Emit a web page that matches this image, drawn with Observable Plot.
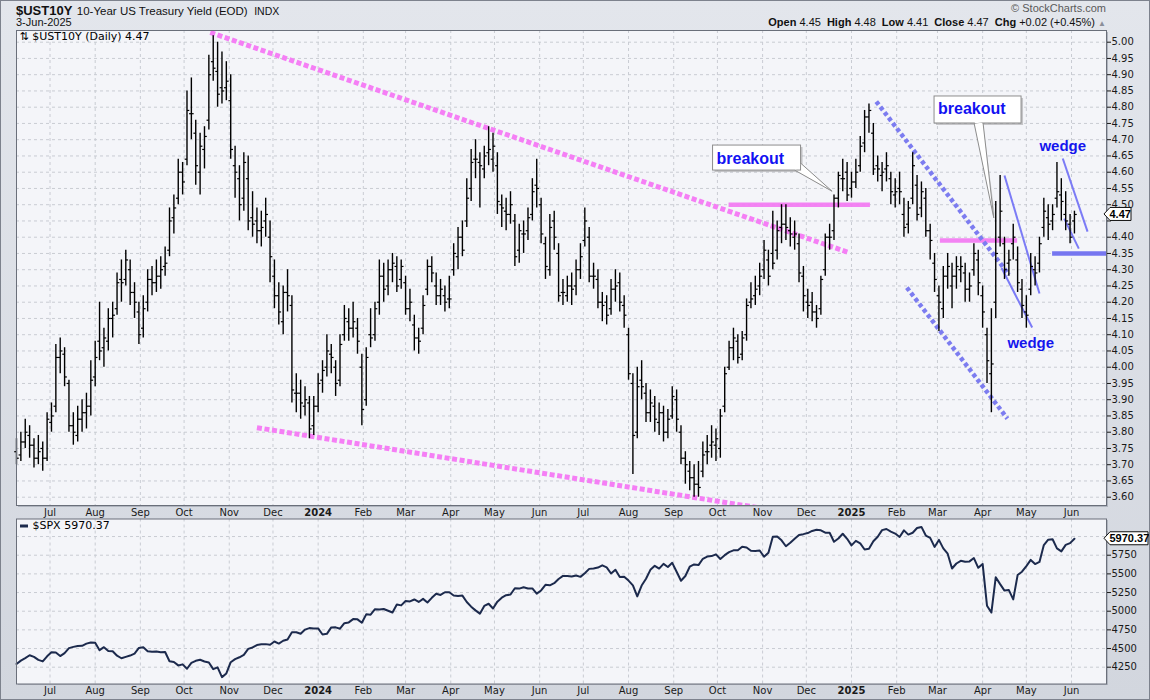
<!DOCTYPE html>
<html>
<head>
<meta charset="utf-8">
<script src="https://cdn.jsdelivr.net/npm/d3@7"></script>
<script src="https://cdn.jsdelivr.net/npm/@observablehq/plot@0.6"></script>
<style>
  html, body { margin:0; padding:0; }
  body { width:1150px; height:700px; overflow:hidden; font-family:"Liberation Sans", Arial, sans-serif; }
  #page { position:relative; width:1150px; height:700px; background:linear-gradient(180deg,#e3e6ec 0%,#d2d6de 100%); }
  .abs { position:absolute; white-space:nowrap; }
  #border { position:absolute; left:0; top:0; width:1150px; height:700px; box-sizing:border-box; border:1px solid #7d828d; pointer-events:none; }
  .shadow { position:absolute; background:#b0b5bf; }
  svg { overflow:visible; }
  #ohlc b { font-weight:bold; }
  #ohlc span.g { margin-left:6px; }
</style>
</head>
<body>
<div id="page">
  <div class="shadow" style="left:18px;top:32px;width:1090px;height:475px;"></div>
  <div class="shadow" style="left:18px;top:520px;width:1090px;height:165px;"></div>
  <div class="abs" id="title" style="left:16px;top:1px;line-height:18px;color:#111;"></div>
  <div class="abs" id="date" style="left:16px;top:16px;font-size:11px;line-height:13px;color:#111;"></div>
  <div class="abs" style="right:44px;top:2px;font-size:11px;line-height:12px;color:#5a5a5a;">&#169; StockCharts.com</div>
  <div class="abs" id="ohlc" style="right:44px;top:16px;font-size:11px;line-height:13px;color:#111;"></div>
  <div id="top" class="abs" style="left:0;top:0;"></div>
  <div id="bot" class="abs" style="left:0;top:505px;"></div>
  <div id="border"></div>
</div>
<script>
// ---------- data ----------
const symbol = "$UST10Y";
const symbolName = "10-Year US Treasury Yield (EOD)";
const exchange = "INDX";
const asOf = "3-Jun-2025";
const chg = "+0.02";
const chgPct = "+0.45%";

// bars sampled every 3 calendar days starting 2023-06-08
const barStart = "2023-06-08";
const barStepDays = 3;
const op = [3.74,3.73,3.77,3.79,3.76,3.72,3.75,3.72,3.83,3.88,
4.03,4.04,3.95,3.82,3.79,3.84,3.86,3.88,3.97,4.08,
4.06,4.08,4.15,4.18,4.27,4.27,4.30,4.23,4.17,4.12,
4.20,4.27,4.26,4.28,4.31,4.36,4.46,4.52,4.60,4.64,
4.78,4.72,4.60,4.67,4.76,4.94,4.91,4.86,4.86,4.82,
4.62,4.58,4.52,4.58,4.46,4.45,4.42,4.45,4.40,4.28,
4.22,4.14,4.23,4.19,3.92,3.92,3.88,3.89,3.82,3.88,
3.96,4.00,4.04,4.00,3.96,4.10,4.14,4.12,4.12,4.00,
3.90,4.10,4.10,4.20,4.28,4.25,4.30,4.31,4.27,4.26,
4.18,4.13,4.09,4.12,4.24,4.31,4.25,4.22,4.22,4.21,
4.30,4.34,4.40,4.45,4.55,4.64,4.63,4.61,4.66,4.64,
4.62,4.50,4.48,4.47,4.45,4.36,4.41,4.42,4.47,4.56,
4.50,4.38,4.30,4.45,4.35,4.23,4.22,4.25,4.25,4.30,
4.39,4.40,4.28,4.27,4.20,4.20,4.18,4.24,4.26,4.19,
4.10,3.95,3.80,3.96,3.92,3.86,3.88,3.83,3.86,3.80,
3.85,3.90,3.80,3.72,3.68,3.66,3.64,3.68,3.74,3.76,
3.76,3.75,3.88,4.00,4.06,4.08,4.04,4.10,4.20,4.22,
4.25,4.30,4.33,4.35,4.36,4.43,4.44,4.42,4.40,4.38,
4.28,4.20,4.20,4.17,4.18,4.30,4.40,4.42,4.52,4.58,
4.60,4.55,4.57,4.62,4.69,4.77,4.72,4.62,4.59,4.61,
4.58,4.53,4.55,4.47,4.44,4.52,4.56,4.49,4.52,4.42,
4.32,4.22,4.18,4.28,4.25,4.28,4.30,4.29,4.24,4.30,
4.33,4.22,4.10,3.98,4.20,4.40,4.38,4.32,4.38,4.33,
4.24,4.17,4.24,4.30,4.32,4.43,4.46,4.45,4.52,4.53,
4.47,4.44,4.45];
const hi = [3.78,3.80,3.84,3.82,3.78,3.79,3.77,3.86,3.89,4.07,
4.09,4.06,3.96,3.86,3.88,3.90,3.92,4.02,4.08,4.20,
4.12,4.18,4.20,4.29,4.33,4.36,4.33,4.26,4.20,4.22,
4.30,4.31,4.33,4.34,4.37,4.49,4.53,4.64,4.63,4.85,
4.89,4.76,4.72,4.74,4.96,5.02,5.00,4.97,4.94,4.90,
4.68,4.62,4.66,4.65,4.54,4.49,4.48,4.52,4.45,4.33,
4.26,4.25,4.30,4.22,3.98,3.96,3.94,3.91,3.91,3.98,
4.02,4.10,4.07,4.02,4.10,4.19,4.18,4.20,4.15,4.04,
4.06,4.18,4.20,4.33,4.32,4.33,4.35,4.34,4.33,4.28,
4.24,4.16,4.12,4.22,4.33,4.34,4.29,4.27,4.25,4.28,
4.38,4.43,4.45,4.58,4.67,4.70,4.66,4.68,4.74,4.72,
4.66,4.53,4.52,4.54,4.47,4.44,4.45,4.49,4.58,4.64,
4.52,4.40,4.47,4.48,4.38,4.27,4.28,4.29,4.33,4.38,
4.49,4.43,4.32,4.30,4.23,4.22,4.27,4.30,4.29,4.22,
4.12,3.98,4.00,4.02,3.95,3.93,3.91,3.89,3.88,3.87,
3.94,3.93,3.82,3.74,3.71,3.70,3.71,3.77,3.79,3.82,
3.81,3.87,4.00,4.08,4.12,4.10,4.11,4.21,4.26,4.28,
4.32,4.39,4.36,4.48,4.45,4.50,4.50,4.46,4.45,4.41,
4.31,4.24,4.23,4.19,4.28,4.41,4.44,4.53,4.60,4.64,
4.63,4.60,4.64,4.71,4.79,4.81,4.75,4.65,4.63,4.66,
4.60,4.58,4.60,4.52,4.51,4.66,4.59,4.57,4.55,4.44,
4.35,4.25,4.31,4.35,4.32,4.34,4.34,4.32,4.29,4.38,
4.36,4.25,4.12,4.18,4.51,4.59,4.40,4.36,4.44,4.37,
4.27,4.22,4.35,4.34,4.40,4.52,4.50,4.50,4.63,4.58,
4.54,4.47,4.48];
const lo = [3.70,3.71,3.75,3.72,3.69,3.70,3.68,3.71,3.80,3.86,
3.98,3.94,3.80,3.76,3.77,3.80,3.81,3.85,3.94,4.02,
4.00,4.05,4.09,4.16,4.20,4.25,4.19,4.15,4.07,4.09,
4.17,4.22,4.23,4.24,4.28,4.34,4.41,4.50,4.53,4.62,
4.70,4.56,4.53,4.61,4.73,4.88,4.80,4.81,4.82,4.64,
4.52,4.45,4.48,4.42,4.40,4.38,4.37,4.40,4.26,4.18,
4.13,4.10,4.17,3.89,3.86,3.84,3.85,3.78,3.79,3.86,
3.92,3.97,3.98,3.91,3.94,4.08,4.08,4.09,4.04,3.82,
3.88,4.06,4.08,4.16,4.20,4.22,4.26,4.23,4.24,4.16,
4.14,4.05,4.04,4.10,4.22,4.26,4.19,4.19,4.17,4.18,
4.28,4.30,4.34,4.43,4.51,4.58,4.49,4.58,4.62,4.60,
4.47,4.43,4.42,4.44,4.31,4.32,4.35,4.39,4.45,4.49,
4.38,4.27,4.28,4.36,4.20,4.19,4.20,4.19,4.22,4.27,
4.37,4.26,4.24,4.18,4.14,4.13,4.16,4.20,4.17,4.12,
3.96,3.67,3.78,3.90,3.83,3.83,3.80,3.79,3.77,3.78,
3.84,3.80,3.70,3.64,3.62,3.60,3.60,3.66,3.70,3.72,
3.71,3.72,3.86,3.99,4.02,4.01,4.02,4.08,4.18,4.19,
4.22,4.27,4.25,4.30,4.33,4.38,4.39,4.37,4.36,4.26,
4.17,4.15,4.14,4.12,4.16,4.28,4.36,4.39,4.49,4.54,
4.51,4.52,4.55,4.60,4.66,4.72,4.59,4.57,4.54,4.57,
4.50,4.49,4.50,4.40,4.41,4.50,4.45,4.46,4.40,4.33,
4.23,4.11,4.15,4.24,4.18,4.24,4.26,4.20,4.20,4.28,
4.22,4.12,3.95,3.86,4.15,4.37,4.27,4.28,4.33,4.23,
4.15,4.12,4.22,4.25,4.29,4.40,4.39,4.42,4.49,4.45,
4.42,4.38,4.41];
const cl = [3.72,3.77,3.80,3.76,3.72,3.74,3.72,3.84,3.85,4.03,
4.05,3.97,3.82,3.80,3.84,3.86,3.88,3.96,4.03,4.05,
4.09,4.15,4.16,4.26,4.26,4.33,4.23,4.20,4.10,4.18,
4.27,4.26,4.28,4.30,4.32,4.45,4.49,4.60,4.57,4.79,
4.78,4.62,4.68,4.71,4.90,4.92,4.84,4.85,4.88,4.67,
4.60,4.50,4.63,4.45,4.44,4.42,4.43,4.47,4.34,4.22,
4.17,4.23,4.22,3.93,3.92,3.89,3.90,3.81,3.88,3.95,
3.99,4.05,4.03,3.95,4.07,4.15,4.12,4.14,4.08,3.87,
4.03,4.09,4.18,4.28,4.24,4.30,4.32,4.25,4.31,4.18,
4.20,4.09,4.08,4.19,4.31,4.29,4.22,4.24,4.20,4.21,
4.35,4.40,4.36,4.52,4.63,4.64,4.62,4.65,4.67,4.68,
4.51,4.49,4.47,4.50,4.34,4.42,4.41,4.46,4.54,4.55,
4.41,4.31,4.43,4.40,4.22,4.23,4.25,4.24,4.30,4.34,
4.45,4.28,4.28,4.20,4.19,4.16,4.24,4.25,4.20,4.16,
3.98,3.79,3.94,3.94,3.86,3.89,3.84,3.86,3.80,3.84,
3.91,3.84,3.72,3.70,3.66,3.64,3.63,3.73,3.74,3.77,
3.78,3.85,3.98,4.06,4.09,4.03,4.09,4.19,4.21,4.24,
4.28,4.36,4.28,4.32,4.42,4.44,4.43,4.41,4.41,4.29,
4.22,4.19,4.17,4.15,4.27,4.40,4.40,4.52,4.59,4.58,
4.53,4.57,4.60,4.68,4.77,4.79,4.61,4.61,4.60,4.62,
4.54,4.54,4.54,4.43,4.49,4.62,4.47,4.54,4.42,4.39,
4.27,4.20,4.28,4.31,4.28,4.31,4.31,4.24,4.25,4.35,
4.26,4.17,4.02,4.01,4.35,4.48,4.30,4.33,4.40,4.26,
4.19,4.16,4.31,4.29,4.38,4.48,4.44,4.47,4.54,4.51,
4.45,4.40,4.47];
const spx = [4293,4338,4372,4410,4389,4348,4328,4396,4450,4446,
4399,4439,4505,4522,4535,4536,4566,4582,4577,4478,
4518,4468,4464,4404,4370,4388,4406,4433,4508,4516,
4465,4457,4461,4450,4453,4330,4320,4274,4288,4229,
4308,4336,4349,4327,4314,4224,4248,4117,4167,4317,
4358,4383,4415,4496,4514,4547,4556,4559,4551,4594,
4567,4604,4622,4719,4719,4698,4754,4774,4770,4770,
4688,4697,4783,4784,4766,4840,4850,4894,4891,4846,
4958,4954,5027,5022,5030,5006,4982,5089,5078,5137,
5131,5157,5124,5165,5117,5179,5234,5218,5254,5254,
5211,5204,5209,5123,5061,5011,4967,5071,5100,5036,
5128,5181,5214,5223,5308,5303,5321,5305,5305,5235,
5278,5354,5347,5375,5432,5473,5473,5465,5478,5460,
5509,5567,5572,5584,5615,5588,5505,5555,5459,5463,
5410,5346,5199,5344,5434,5554,5608,5571,5634,5592,
5648,5528,5408,5471,5596,5626,5618,5702,5732,5738,
5762,5700,5751,5792,5815,5816,5864,5853,5809,5808,
5813,5729,5782,5996,6001,5949,5870,5917,5969,6021,
6032,6047,6075,6090,6084,6051,6050,5930,5974,6037,
5970,5882,5942,5909,5827,5836,5937,5997,6086,6101,
6067,6040,5994,6083,6026,6051,6114,6129,6013,5983,
5861,5955,5842,5770,5572,5639,5675,5662,5667,5712,
5581,5633,5074,4982,5456,5363,5276,5283,5158,5484,
5529,5604,5687,5631,5660,5886,5958,5964,5842,5802,
5889,5912,5970.37];

// axis ticks
const monthTicks = ["2023-07-01","2023-08-01","2023-09-01","2023-10-01","2023-11-01","2023-12-01",
"2024-01-01","2024-02-01","2024-03-01","2024-04-01","2024-05-01","2024-06-01","2024-07-01","2024-08-01",
"2024-09-01","2024-10-01","2024-11-01","2024-12-01","2025-01-01","2025-02-01","2025-03-01","2025-04-01",
"2025-05-01","2025-06-01"];
const yieldTicks = [3.60,3.65,3.70,3.75,3.80,3.85,3.90,3.95,4.00,4.05,4.10,4.15,4.20,4.25,4.30,4.35,4.40,
4.45,4.50,4.55,4.60,4.65,4.70,4.75,4.80,4.85,4.90,4.95,5.00];
const spxTicks = [4250,4500,4750,5000,5250,5500,5750,6000];
const xDomain = ["2023-06-08","2025-06-25"];
const yieldDomain = [3.5745, 5.036];
const spxDomain = [4025, 6235];

// annotations (chart coordinates: date, yield)
const pinkDotted = [
  {x1:"2023-10-19", y1:5.03, x2:"2024-12-30", y2:4.353},
  {x1:"2023-11-20", y1:3.814, x2:"2024-11-06", y2:3.562}
];
const pinkLevels = [
  {x1:"2024-10-09", x2:"2025-01-14", y:4.50},
  {x1:"2025-03-03", x2:"2025-04-25", y:4.39}
];
const blueDotted = [
  {x1:"2025-01-18", y1:4.8175, x2:"2025-04-19", y2:4.285},
  {x1:"2025-02-08", y1:4.245, x2:"2025-04-18", y2:3.842}
];
const wedgeLines = [
  {x1:"2025-04-16", y1:4.590, x2:"2025-05-10", y2:4.227},
  {x1:"2025-04-14", y1:4.305, x2:"2025-05-05", y2:4.122},
  {x1:"2025-05-26", y1:4.642, x2:"2025-06-12", y2:4.417},
  {x1:"2025-05-27", y1:4.457, x2:"2025-06-06", y2:4.365}
];
const blueLevels = [{x1:"2025-05-19", x2:"2025-06-25", y:4.35}];
const wedgeLabels = [
  {date:"2025-05-26", value:4.679, label:"wedge"},
  {date:"2025-05-04", value:4.075, label:"wedge"}
];
const callouts = [
  {label:"breakout", boxDate:"2024-09-28", boxValue:4.682, tipDate:"2024-12-19", tipValue:4.54},
  {label:"breakout", boxDate:"2025-02-27", boxValue:4.833, tipDate:"2025-04-09", tipValue:4.458}
];

// ---------- build ----------
const parse = d3.utcParse("%Y-%m-%d");
const t0 = parse(barStart);
const dates = op.map((_, i) => d3.utcDay.offset(t0, i * barStepDays));
const bars = op.map((o, i) => ({date: dates[i], op: o, hi: hi[i], lo: lo[i], cl: cl[i]}));
const spxData = spx.map((v, i) => ({date: dates[i], v}));
const months = monthTicks.map(parse);
const monthsNoJan = months.filter(d => d.getUTCMonth() !== 0);
const jans = months.filter(d => d.getUTCMonth() === 0);
const xd = xDomain.map(parse);
const fixLine = a => a.map(d => ({...d, x1: parse(d.x1), x2: parse(d.x2)}));

const last = bars[bars.length - 1];
const spxLast = spx[spx.length - 1];
const f2 = d3.format(".2f");

document.getElementById("title").innerHTML =
  `<b style="font-size:13px">${symbol}</b> <span style="font-size:11.5px">${symbolName}</span> <span style="font-size:10.5px;margin-left:2px">${exchange}</span>`;
document.getElementById("date").textContent = asOf;
document.getElementById("ohlc").innerHTML =
  `<b>Open</b> ${f2(last.op)}<span class="g"><b>High</b> ${f2(last.hi)}</span><span class="g"><b>Low</b> ${f2(last.lo)}</span><span class="g"><b>Close</b> ${f2(last.cl)}</span><span class="g"><b>Chg</b> ${chg} (${chgPct})</span> <span style="font-size:8px;color:#8a8f99">&#9650;</span>`;

const AX = "'DejaVu Sans', sans-serif";
const leftTick = {draw(ctx) { ctx.moveTo(-2.3, 0); ctx.lineTo(0, 0); }};
const rightTick = {draw(ctx) { ctx.moveTo(0, 0); ctx.lineTo(2.3, 0); }};
const gridStyle = {stroke: "#c9ccd3", strokeDasharray: "3,3", strokeWidth: 1};

// tick labels hidden underneath the last-value tags (as in the original)
const yieldTickFmt = v => Math.abs(v - last.cl) < 0.025 ? "" : f2(v);
const spxTickFmt = v => Math.abs(v - spxLast) < 90 ? "" : d3.format("d")(v);

const topChart = Plot.plot({
  width: 1150, height: 518,
  marginTop: 30, marginBottom: 13, marginLeft: 16, marginRight: 44,
  style: {background: "transparent", fontFamily: AX, fontSize: "10px", color: "#1a1a1a", overflow: "visible"},
  x: {type: "utc", domain: xd, axis: null, label: null},
  y: {domain: yieldDomain, axis: null, label: null},
  marks: [
    Plot.frame({fill: "#f4f5f9", stroke: "none"}),
    Plot.ruleY(yieldTicks, gridStyle),
    Plot.ruleX(months, gridStyle),
    Plot.ruleY(fixLine(pinkLevels), {y: "y", x1: "x1", x2: "x2", stroke: "#f27cf2", strokeWidth: 4.5, strokeOpacity: 0.95}),
    Plot.link(fixLine(pinkDotted), {x1: "x1", y1: "y1", x2: "x2", y2: "y2", stroke: "#f57ff5", strokeWidth: 5, strokeDasharray: "5,2.6", clip: true}),
    Plot.link(fixLine(blueDotted), {x1: "x1", y1: "y1", x2: "x2", y2: "y2", stroke: "#7c7cf0", strokeWidth: 4.5, strokeDasharray: "4,2.8", clip: true}),
    Plot.link(fixLine(wedgeLines), {x1: "x1", y1: "y1", x2: "x2", y2: "y2", stroke: "#7b7bf6", strokeWidth: 2}),
    Plot.ruleY(fixLine(blueLevels), {y: "y", x1: "x1", x2: "x2", stroke: "#7676f0", strokeWidth: 4.5}),
    Plot.ruleX(bars, {x: "date", y1: "lo", y2: "hi", stroke: "#000", strokeWidth: 1.4}),
    Plot.dot(bars, {x: "date", y: "op", symbol: leftTick, r: 2, stroke: "#000", fill: "none", strokeWidth: 1.2}),
    Plot.dot(bars, {x: "date", y: "cl", symbol: rightTick, r: 2, stroke: "#000", fill: "none", strokeWidth: 1.2}),
    Plot.text(wedgeLabels, {x: d => parse(d.date), y: "value", text: "label", fill: "#1515ee", fontWeight: "bold", fontSize: 15, fontFamily: "'Liberation Sans', Arial, sans-serif"}),
    Plot.axisY({anchor: "right", ticks: yieldTicks, tickFormat: yieldTickFmt, tickSize: 4, tickPadding: 1, fontSize: 10, label: null}),
    Plot.axisX({ticks: monthsNoJan, tickFormat: d3.utcFormat("%b"), tickSize: 0, tickPadding: 3, fontSize: 10, label: null}),
    Plot.axisX({ticks: jans, tickFormat: d3.utcFormat("%Y"), tickSize: 0, tickPadding: 3, fontSize: 10, fontWeight: "bold", label: null}),
    Plot.frame({stroke: "#6a6f7a"}),
    Plot.text([`\u21C5 ${symbol} (Daily) ${f2(last.cl)}`], {text: d => d, frameAnchor: "top-left", dx: 3, dy: 1.5, lineAnchor: "top", textAnchor: "start", fontSize: 11, fill: "#000"})
  ]
});
document.getElementById("top").appendChild(topChart);

const botChart = Plot.plot({
  width: 1150, height: 195,
  marginTop: 13.5, marginBottom: 16.5, marginLeft: 16, marginRight: 44,
  style: {background: "transparent", fontFamily: AX, fontSize: "10px", color: "#1a1a1a", overflow: "visible"},
  x: {type: "utc", domain: xd, axis: null, label: null},
  y: {domain: spxDomain, axis: null, label: null},
  marks: [
    Plot.frame({fill: "#f4f5f9", stroke: "none"}),
    Plot.ruleY(spxTicks, gridStyle),
    Plot.ruleX(months, gridStyle),
    Plot.line(spxData, {x: "date", y: "v", stroke: "#1c2a4d", strokeWidth: 2, strokeLinejoin: "round"}),
    Plot.axisY({anchor: "right", ticks: spxTicks, tickFormat: spxTickFmt, tickSize: 4, tickPadding: 1, fontSize: 10, label: null}),
    Plot.axisX({ticks: monthsNoJan, tickFormat: d3.utcFormat("%b"), tickSize: 0, tickPadding: 3, fontSize: 10, label: null}),
    Plot.axisX({ticks: jans, tickFormat: d3.utcFormat("%Y"), tickSize: 0, tickPadding: 3, fontSize: 10, fontWeight: "bold", label: null}),
    Plot.frame({stroke: "#6a6f7a"}),
    Plot.text([`$SPX ${spxLast.toFixed(2)}`], {text: d => d, frameAnchor: "top-left", dx: 16, dy: 2, lineAnchor: "top", textAnchor: "start", fontSize: 11, fill: "#000"})
  ]
});
document.getElementById("bot").appendChild(botChart);

// ---------- overlays drawn with the charts' scales ----------
function valueTag(chart, value, label, w) {
  const sy = chart.scale("y"), sx = chart.scale("x");
  const y = sy.apply(value), x0 = sx.range[1] - 2;
  const g = d3.select(chart).append("g");
  g.append("path")
    .attr("d", `M${x0},${y}L${x0 + 6},${y - 6.5}L${x0 + w},${y - 6.5}L${x0 + w},${y + 6.5}L${x0 + 6},${y + 6.5}Z`)
    .attr("fill", "#fff").attr("stroke", "#111").attr("stroke-width", 1);
  g.append("text").attr("x", x0 + 5.5).attr("y", y).attr("dy", "0.36em")
    .attr("text-anchor", "start")
    .attr("font-family", "'Liberation Sans', Arial, sans-serif").attr("font-weight", "bold")
    .attr("font-size", 11).attr("fill", "#000").text(label);
}
valueTag(topChart, last.cl, f2(last.cl), 27);
valueTag(botChart, spxLast, spxLast.toFixed(2), 44);

// legend dash for SPX
{
  const sx = botChart.scale("x"), sy = botChart.scale("y");
  const x = sx.range[0], y = sy.range[1];
  d3.select(botChart).append("line").attr("x1", x + 4).attr("x2", x + 12)
    .attr("y1", y + 7.5).attr("y2", y + 7.5).attr("stroke", "#1c2a4d").attr("stroke-width", 3);
}

// callout boxes
const calloutLayout = [
  {w: 88, h: 25, base: [[82, 25], [88, 18]]},
  {w: 87, h: 27, base: [[40, 27], [49, 27]]}
];
{
  const sx = topChart.scale("x"), sy = topChart.scale("y");
  const svg = d3.select(topChart);
  callouts.forEach((c, i) => {
    const L = calloutLayout[i];
    const bx = sx.apply(parse(c.boxDate)), by = sy.apply(c.boxValue);
    const tx = sx.apply(parse(c.tipDate)), ty = sy.apply(c.tipValue);
    const g = svg.append("g");
    g.append("rect").attr("x", bx + 2).attr("y", by + 2).attr("width", L.w).attr("height", L.h)
      .attr("fill", "#8c8c8c").attr("opacity", 0.45);
    g.append("path").attr("d", `M${bx + L.base[0][0]},${by + L.base[0][1]}L${tx + 1.5},${ty + 1}L${bx + L.base[1][0]},${by + L.base[1][1]}Z`)
      .attr("fill", "#9a9a9a").attr("opacity", 0.4);
    g.append("path").attr("d", `M${bx + L.base[0][0]},${by + L.base[0][1]}L${tx},${ty}L${bx + L.base[1][0]},${by + L.base[1][1]}Z`)
      .attr("fill", "#fff").attr("stroke", "#8d8d8d").attr("stroke-width", 1);
    g.append("rect").attr("x", bx).attr("y", by).attr("width", L.w).attr("height", L.h)
      .attr("fill", "#fff").attr("stroke", "#8d8d8d").attr("stroke-width", 1);
    g.append("path").attr("d", `M${bx + L.base[0][0] + 0.8},${by + L.base[0][1] - 0.8}L${bx + L.base[1][0] - 0.8},${by + L.base[1][1] + 0.8}`)
      .attr("stroke", "#fff").attr("stroke-width", 1.6);
    g.append("text").attr("x", bx + 4).attr("y", by + 18.5)
      .attr("text-anchor", "start")
      .attr("font-family", "'Liberation Sans', Arial, sans-serif").attr("font-weight", "bold")
      .attr("font-size", 16).attr("fill", "#1212f2").text(c.label);
  });
}
</script>
</body>
</html>
